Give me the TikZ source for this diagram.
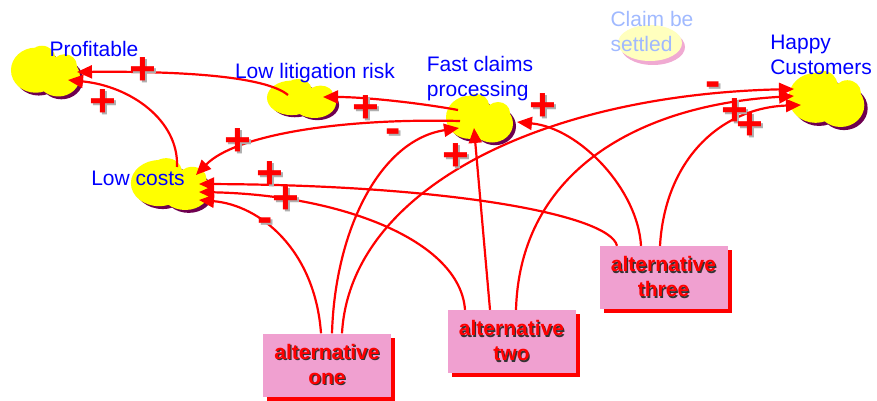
\documentclass[tikz,border=0pt]{standalone}
\usepackage{fontspec}
\setmainfont{Liberation Sans}
\usetikzlibrary{arrows.meta, positioning, calc, shapes.geometric, shadows}
\definecolor{cloudyellow}{RGB}{255,255,0}
\definecolor{cloudshade}{RGB}{110,0,80}
\definecolor{boxpink}{RGB}{240,160,208}
\definecolor{linkred}{RGB}{255,0,0}
\definecolor{labelblue}{RGB}{0,0,255}
\definecolor{faintblue}{RGB}{160,185,255}
\definecolor{faintyellow}{RGB}{255,255,190}
\definecolor{faintpink}{RGB}{240,170,210}
\definecolor{signshade}{RGB}{175,175,175}

% text with a small shadow: colour, offset, text
\newcommand{\shadowed}[3]{\makebox[0pt][l]{\hspace{#2}\raisebox{-#2}{\textcolor{#1}{#3}}}#3}
% yellow cloud with its shadow: name, centre, xscale, yscale
\newcommand{\cloud}[4]{%
  \begin{scope}[shift={(#2)}, xscale=#3, yscale=#4]
    \fill[cloudshade] (-7,0) circle (24) (15,7) circle (21);
    \fill[cloudyellow] (-10,-3) circle (24) (12,4) circle (21) (-4,-16) circle (13) (18,-8) circle (12);
  \end{scope}
  \coordinate (#1) at (#2);}

\begin{document}
\begin{tikzpicture}[
    x=1pt, y=-1pt,
    tag/.style={text=labelblue, font=\fontsize{21}{25}\selectfont, inner sep=0pt},
    altbox/.style={fill=boxpink, minimum width=128pt, minimum height=63pt, align=center,
                   text=linkred, font=\bfseries\fontsize{21}{25}\selectfont,
                   drop shadow={shadow xshift=4pt, shadow yshift=-4pt, fill=linkred, opacity=1}},
    sign/.style={text=linkred, font=\bfseries\fontsize{46}{46}\selectfont, inner sep=0pt},
    link/.style={draw=linkred, line width=2.2pt, -{Triangle[length=15pt,width=13pt]}}
]
    \useasboundingbox (0,0) rectangle (877,401);

    % Clouds
    \cloud{prof}{46,73}{1.03}{0.94}
    \cloud{litig}{302,100}{1.03}{0.72}
    \cloud{fast}{480,120}{1.0}{0.9}
    \cloud{costs}{171,186}{1.18}{0.96}
    \cloud{happy}{827,101}{1.13}{1.04}
    \node[ellipse, fill=faintyellow, minimum width=64pt, minimum height=36pt, inner sep=0pt,
          drop shadow={shadow xshift=3pt, shadow yshift=-4pt, fill=faintpink, opacity=1}] (settle) at (650,43) {};

    % Labels of the clouds
    \node[tag] (proftxt) at (94,49) {Profitable};
    \node[tag] (littxt) at (315,73) {Low litigation risk};
    \node[tag, align=left] (fasttxt) at (480,79) {Fast claims\\processing};
    \node[tag] (coststxt) at (138,178) {Low costs};
    \node[tag, align=left] (happytxt) at (821,55) {Happy\\Customers};
    \node[tag, align=left, text=faintblue] (settletxt) at (652,31) {Claim be\\settled};

    % Alternatives
    \node[altbox] (alt1) at (327,365) {\shadowed{black!80}{1.2pt}{alternative}\\\shadowed{black!80}{1.2pt}{one}};
    \node[altbox] (alt2) at (511.5,341.5) {\shadowed{black!80}{1.2pt}{alternative}\\\shadowed{black!80}{1.2pt}{two}};
    \node[altbox] (alt3) at (663.5,277.5) {\shadowed{black!80}{1.2pt}{alternative}\\\shadowed{black!80}{1.2pt}{three}};

    % Links between the clouds
    \draw[link] ($(litig)+(-14,-5)$) .. controls (265,76) and (180,71) .. ($(prof)+(31,-1)$);
    \draw[link] ($(costs)+(6,-19)$) .. controls (179,120) and (130,86) .. ($(prof)+(22,7)$);
    \draw[link] ($(fast)+(-22,-10)$) .. controls (420,103) and (365,97) .. ($(litig)+(21,-3)$);
    \draw[link] ($(fast)+(-20,1)$) .. controls (340,118) and (235,135) .. ($(costs)+(25,-11)$);

    % Links from the alternatives
    \draw[link] ([xshift=5pt]alt1.north) .. controls (335,230) and (380,140) .. ($(fast)+(-21,8)$);
    \draw[link] ([xshift=-21.5pt]alt2.north) -- ($(fast)+(-6,8)$);
    \draw[link] ([xshift=-22.5pt]alt3.north) .. controls (638,190) and (580,128) .. ($(fast)+(37,2)$);
    \draw[link] ([xshift=15pt]alt1.north) .. controls (350,190) and (540,95) .. ($(happy)+(-33,-12)$);
    \draw[link] ([xshift=4.5pt]alt2.north) .. controls (520,170) and (640,105) .. ($(happy)+(-33,-5)$);
    \draw[link] ([xshift=-3.5pt]alt3.north) .. controls (665,160) and (720,108) .. ($(happy)+(-26,4)$);
    \draw[link] ([xshift=-46.5pt]alt3.north) .. controls (610,215) and (450,185) .. ($(costs)+(28,-2)$);
    \draw[link] ([xshift=-46.5pt]alt2.north) .. controls (460,240) and (340,195) .. ($(costs)+(28,6)$);
    \draw[link] ([xshift=-6pt]alt1.north) .. controls (315,250) and (260,205) .. ($(costs)+(28,14)$);

    % Signs of the links
    \node[sign] (s-litprof) at (143,72) {\shadowed{signshade}{2pt}{+}};
    \node[sign] (s-costprof) at (103,104) {\shadowed{signshade}{2pt}{+}};
    \node[sign] (s-fastlit) at (366,110) {\shadowed{signshade}{2pt}{+}};
    \node[sign] (s-fastcost) at (238,143) {\shadowed{signshade}{2pt}{+}};
    \node[sign] (s-onefast) at (393,137) {\shadowed{signshade}{2pt}{-}};
    \node[sign] (s-twofast) at (456,158) {\shadowed{signshade}{2pt}{+}};
    \node[sign] (s-threefast) at (543,108) {\shadowed{signshade}{2pt}{+}};
    \node[sign] (s-onehappy) at (713,90) {\shadowed{signshade}{2pt}{-}};
    \node[sign] (s-twohappy) at (735,113) {\shadowed{signshade}{2pt}{+}};
    \node[sign] (s-threehappy) at (750,127) {\shadowed{signshade}{2pt}{+}};
    \node[sign] (s-threecost) at (270,176) {\shadowed{signshade}{2pt}{+}};
    \node[sign] (s-twocost) at (286,201) {\shadowed{signshade}{2pt}{+}};
    \node[sign] (s-onecost) at (265,226) {\shadowed{signshade}{2pt}{-}};
\end{tikzpicture}
\end{document}
